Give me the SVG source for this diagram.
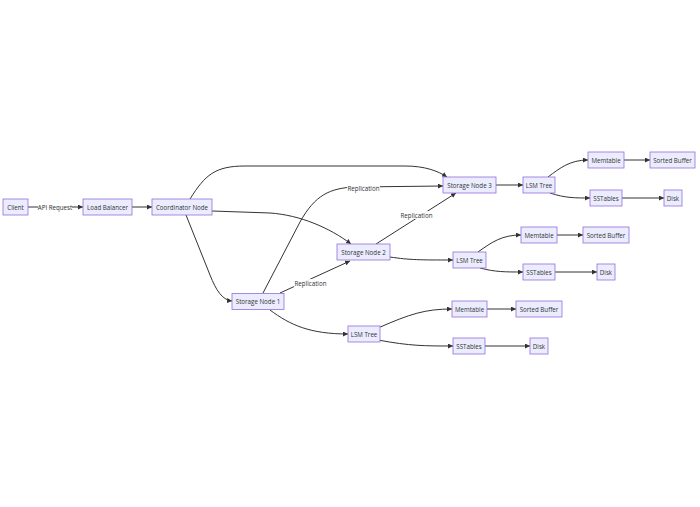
<svg xmlns="http://www.w3.org/2000/svg" width="700" height="507" viewBox="0 0 700 507">
<defs>
<marker id="arr" viewBox="0 0 10 10" refX="10" refY="5" markerUnits="userSpaceOnUse" markerWidth="5" markerHeight="5" orient="auto">
<path d="M0,0 L10,5 L0,10 z" fill="#333333"/>
</marker>
<style>
.node rect{fill:#ECECFF;stroke:#9370DB;stroke-width:0.8}
.node text,.lbl text{font-family:"Open Sans","DejaVu Sans",sans-serif;font-size:6.2px;fill:#333333;text-anchor:middle;dominant-baseline:central}
.edges path{fill:none;stroke:#333333;stroke-width:1;marker-end:url(#arr)}
.lbl rect{fill:#ffffff;opacity:0.9}
</style>
</defs>
<rect width="700" height="507" fill="#ffffff"/>
<g id="connectors" class="edges">
<path d="M28,207 L83,207"/>
<path d="M132,207 L152,207"/>
<path d="M190,199 C205,175 215,166 245,166 L405,166 C425,166 438,171 447,177"/>
<path d="M212,211 L270,213 C300,215 330,228 351,244"/>
<path d="M186,215 L210,275 C216,290 222,300 232,301"/>
<path d="M263,293 L300,222 C315,195 330,188 355,187 L443,186"/>
<path d="M280,293 L350,261"/>
<path d="M376,244 L456,193"/>
<path d="M496,185 L523,185"/>
<path d="M390,257 C410,260 420,260 453,260"/>
<path d="M270,310 C290,325 310,334 348,334"/>
<path d="M548,177 C560,168 570,160 588,160"/>
<path d="M550,193 C565,198 575,198 590,198"/>
<path d="M624,160 L650,160"/>
<path d="M622,198 L664,198"/>
<path d="M478,252 C492,242 502,235 521,235"/>
<path d="M480,268 C495,272 505,272 523,272"/>
<path d="M557,235 L583,235"/>
<path d="M555,272 L597,272"/>
<path d="M378,328 C410,314 425,309 452,309"/>
<path d="M378,340 C410,346 425,346 453,346"/>
<path d="M487,309 L516,309"/>
<path d="M485,346 L530,346"/>
</g>
<g id="edge-labels" class="lbl">
<rect x="38" y="203" width="34" height="8"/><text x="55" y="207">API Request</text>
<rect x="347" y="184" width="33" height="8"/><text x="363.5" y="188">Replication</text>
<rect x="294" y="279" width="33" height="8"/><text x="310.5" y="283">Replication</text>
<rect x="400" y="211" width="33" height="8"/><text x="416.5" y="215">Replication</text>
</g>
<g id="client" class="node"><rect x="3" y="199" width="25" height="16"/><text x="15.5" y="207">Client</text></g>
<g id="loadbalancer" class="node"><rect x="83" y="199" width="49" height="16"/><text x="107.5" y="207">Load Balancer</text></g>
<g id="coordinator" class="node"><rect x="152" y="199" width="60" height="16"/><text x="182" y="207">Coordinator Node</text></g>
<g id="sn3" class="node"><rect x="443" y="177" width="53" height="16"/><text x="469.5" y="185">Storage Node 3</text></g>
<g id="lsm3" class="node"><rect x="523" y="177" width="32" height="16"/><text x="539" y="185">LSM Tree</text></g>
<g id="mem3" class="node"><rect x="588" y="152" width="36" height="16"/><text x="606" y="160">Memtable</text></g>
<g id="sb3" class="node"><rect x="650" y="152" width="45" height="16"/><text x="672.5" y="160">Sorted Buffer</text></g>
<g id="sst3" class="node"><rect x="590" y="190" width="32" height="16"/><text x="606" y="198">SSTables</text></g>
<g id="disk3" class="node"><rect x="664" y="190" width="18" height="16"/><text x="673" y="198">Disk</text></g>
<g id="sn2" class="node"><rect x="337" y="244" width="53" height="16"/><text x="363.5" y="252">Storage Node 2</text></g>
<g id="lsm2" class="node"><rect x="453" y="252" width="33" height="16"/><text x="469.5" y="260">LSM Tree</text></g>
<g id="mem2" class="node"><rect x="521" y="227" width="36" height="16"/><text x="539" y="235">Memtable</text></g>
<g id="sb2" class="node"><rect x="583" y="227" width="46" height="16"/><text x="606" y="235">Sorted Buffer</text></g>
<g id="sst2" class="node"><rect x="523" y="264" width="32" height="16"/><text x="539" y="272">SSTables</text></g>
<g id="disk2" class="node"><rect x="597" y="264" width="18" height="16"/><text x="606" y="272">Disk</text></g>
<g id="sn1" class="node"><rect x="232" y="293.5" width="52" height="16"/><text x="258" y="301.5">Storage Node 1</text></g>
<g id="lsm1" class="node"><rect x="348" y="326" width="32" height="16"/><text x="364" y="334">LSM Tree</text></g>
<g id="mem1" class="node"><rect x="452" y="301" width="35" height="16"/><text x="469.5" y="309">Memtable</text></g>
<g id="sb1" class="node"><rect x="516" y="301" width="46" height="16"/><text x="539" y="309">Sorted Buffer</text></g>
<g id="sst1" class="node"><rect x="453" y="338" width="32" height="16"/><text x="469" y="346">SSTables</text></g>
<g id="disk1" class="node"><rect x="530" y="338" width="18" height="16"/><text x="539" y="346">Disk</text></g>
</svg>
